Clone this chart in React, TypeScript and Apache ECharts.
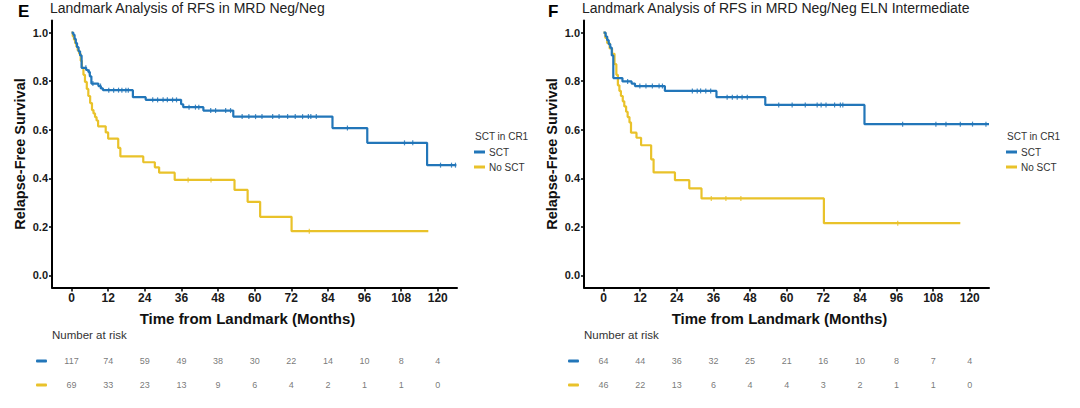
import React, { useEffect, useRef } from "react";
import * as echarts from "echarts";

// ---- Data ----
const tickTimes = [0, 12, 24, 36, 48, 60, 72, 84, 96, 108, 120];
const yTicks = [0, 0.2, 0.4, 0.6, 0.8, 1.0];
const groupNames = ["SCT", "No SCT"];

// Panel E: MRD Neg/Neg
const eSctTimes = [0, 0.6, 1.0, 1.4, 1.8, 2.3, 2.8, 3.3, 4.8, 5.5, 6.0, 6.5, 8.8, 9.6, 10.3, 20.1, 24.3, 35.9, 36.6, 43.2, 53.0, 85.5, 96.9, 116.5, 126.1];
const eSctSurv = [1.0, 0.991, 0.974, 0.957, 0.94, 0.923, 0.906, 0.855, 0.846, 0.838, 0.82, 0.79, 0.78, 0.77, 0.763, 0.734, 0.723, 0.705, 0.693, 0.679, 0.654, 0.607, 0.546, 0.454, 0.454];
const eNoTimes = [0, 0.4, 0.8, 1.2, 1.6, 2.0, 2.5, 3.0, 3.4, 3.9, 4.4, 5.0, 5.5, 6.1, 6.7, 7.2, 7.7, 8.2, 8.7, 11.2, 12.0, 15.3, 16.0, 23.5, 27.3, 28.7, 33.8, 53.4, 57.7, 61.8, 72.1, 116.9];
const eNoSurv = [1.0, 0.985, 0.971, 0.956, 0.942, 0.927, 0.913, 0.884, 0.855, 0.826, 0.797, 0.768, 0.739, 0.71, 0.681, 0.667, 0.652, 0.638, 0.614, 0.589, 0.563, 0.525, 0.49, 0.466, 0.445, 0.423, 0.393, 0.352, 0.303, 0.241, 0.182, 0.182];
const eSctCensor = [4.7, 5.8, 7.0, 9.5, 12.2, 13.8, 15.4, 16.5, 17.8, 18.6, 26.6, 28.2, 30.0, 31.4, 33.1, 34.4, 38.5, 40.6, 41.7, 45.6, 47.2, 50.5, 52.1, 55.9, 58.1, 60.3, 62.4, 65.9, 68.0, 70.8, 73.3, 75.7, 77.6, 78.4, 80.2, 90.4, 109.1, 111.8, 120.9, 124.5, 125.8];
const eNoCensor = [38.2, 45.7, 77.9];
const eSctRisk = [117, 74, 59, 49, 38, 30, 22, 14, 10, 8, 4];
const eNoRisk = [69, 33, 23, 13, 9, 6, 4, 2, 1, 1, 0];

// Panel F: MRD Neg/Neg ELN Intermediate
const fSctTimes = [0, 0.7, 1.2, 1.7, 2.2, 2.7, 3.2, 6.2, 9.2, 10.3, 20.1, 37.0, 53.0, 85.5, 126.3];
const fSctSurv = [1.0, 0.984, 0.969, 0.953, 0.938, 0.906, 0.813, 0.799, 0.79, 0.78, 0.76, 0.734, 0.702, 0.623, 0.623];
const fNoTimes = [0, 0.6, 1.2, 2.0, 2.8, 3.6, 4.2, 4.7, 5.2, 5.7, 6.3, 6.8, 7.4, 7.9, 8.5, 9.0, 10.8, 12.3, 15.6, 16.4, 23.4, 28.1, 32.1, 72.2, 116.9];
const fNoSurv = [1.0, 0.978, 0.957, 0.935, 0.913, 0.87, 0.826, 0.783, 0.76, 0.739, 0.717, 0.696, 0.674, 0.652, 0.63, 0.588, 0.567, 0.536, 0.478, 0.424, 0.392, 0.358, 0.317, 0.215, 0.215];
const fSctCensor = [7.9, 11.9, 13.9, 16.0, 18.2, 19.3, 29.1, 30.7, 31.8, 33.5, 35.1, 40.5, 42.2, 43.8, 45.4, 47.1, 57.4, 61.8, 66.1, 70.0, 71.3, 72.9, 75.7, 77.6, 78.4, 98.0, 108.9, 112.2, 116.9, 120.9, 125.3];
const fNoCensor = [35.3, 40.1, 45.0, 96.4];
const fSctRisk = [64, 44, 36, 32, 25, 21, 16, 10, 8, 7, 4];
const fNoRisk = [46, 22, 13, 6, 4, 4, 3, 2, 1, 1, 0];

const panelTitles = ["Landmark Analysis of RFS in MRD Neg/Neg", "Landmark Analysis of RFS in MRD Neg/Neg ELN Intermediate"];
const panelLetters = ["E", "F"];

const BLUE = "#2276B9";
const YELLOW = "#E9C22A";
const FONT = "Liberation Sans, Arial, sans-serif";

function survAt(times: number[], surv: number[], t: number) {
  let v = surv[0];
  for (let i = 0; i < times.length; i++) {
    if (times[i] <= t) v = surv[i];
  }
  return v;
}

export default function App() {
  const ref = useRef<HTMLDivElement>(null);
  useEffect(() => {
    if (!ref.current) return;
    const chart = echarts.init(ref.current, null, { renderer: "svg" });

    const panels = [
      { left: 52, sT: eSctTimes, sS: eSctSurv, nT: eNoTimes, nS: eNoSurv, sC: eSctCensor, nC: eNoCensor, sR: eSctRisk, nR: eNoRisk },
      { left: 584, sT: fSctTimes, sS: fSctSurv, nT: fNoTimes, nS: fNoSurv, sC: fSctCensor, nC: fNoCensor, sR: fSctRisk, nR: fNoRisk },
    ];
    const W = 405;
    const XMIN = -6.4;
    const XMAX = 126.3;

    const grid: any[] = [];
    const xAxis: any[] = [];
    const yAxis: any[] = [];
    const series: any[] = [];

    panels.forEach((p, i) => {
      const gMain = i * 2;
      const gRisk = i * 2 + 1;
      grid.push({ left: p.left, top: 20.5, width: W, height: 267 });
      grid.push({ left: p.left, top: 349, width: W, height: 48 });
      xAxis.push({
        type: "value", gridIndex: gMain, min: XMIN, max: XMAX,
        splitLine: { show: false },
        axisLine: { onZero: false, lineStyle: { color: "#000", width: 2 } },
        axisTick: { customValues: tickTimes, length: 4, lineStyle: { color: "#000", width: 1.5 } },
        axisLabel: { customValues: tickTimes, color: "#1a1a1a", fontWeight: "bold", fontSize: 12, fontFamily: FONT, margin: 4 },
        name: "Time from Landmark (Months)", nameLocation: "middle", nameGap: 23,
        nameTextStyle: { color: "#111", fontWeight: "bold", fontSize: 15, fontFamily: FONT, padding: [0, 14, 0, 0] },
      });
      xAxis.push({ type: "value", gridIndex: gRisk, min: XMIN, max: XMAX, show: false });
      yAxis.push({
        type: "value", gridIndex: gMain, min: -0.05, max: 1.05,
        splitLine: { show: false },
        axisLine: { show: true, onZero: false, lineStyle: { color: "#000", width: 2 } },
        axisTick: { show: true, customValues: yTicks, length: 3, lineStyle: { color: "#000", width: 1.5 } },
        axisLabel: { customValues: yTicks, formatter: (v: number) => v.toFixed(1), color: "#1a1a1a", fontWeight: "bold", fontSize: 11, fontFamily: FONT, margin: 4 },
        name: "Relapse-Free Survival", nameLocation: "middle", nameGap: 25,
        nameTextStyle: { color: "#111", fontWeight: "bold", fontSize: 14.5, fontFamily: FONT },
      });
      yAxis.push({
        type: "category", gridIndex: gRisk, data: groupNames, inverse: true,
        axisLine: { show: false }, axisTick: { show: false }, splitLine: { show: false },
        axisLabel: {
          margin: 5,
          formatter: (v: string) => (v === "SCT" ? "{s|}" : "{n|}"),
          rich: {
            s: { backgroundColor: BLUE, width: 11, height: 3, borderRadius: 1 },
            n: { backgroundColor: YELLOW, width: 11, height: 3, borderRadius: 1 },
          },
        },
      });

      const mk = (name: string, color: string, times: number[], surv: number[], cens: number[], risk: number[]) => {
        series.push({
          name, type: "line", step: "end", xAxisIndex: gMain, yAxisIndex: gMain,
          showSymbol: false, symbol: "none",
          lineStyle: { color, width: 2.2 }, itemStyle: { color },
          data: times.map((t, k) => [t, surv[k]]),
          z: name === "SCT" ? 3 : 2,
        });
        series.push({
          name: name + " censored", type: "scatter", xAxisIndex: gMain, yAxisIndex: gMain,
          symbol: "rect", symbolSize: [1.2, 5],
          itemStyle: { color, opacity: 0.85 },
          data: cens.map((t) => [t, survAt(times, surv, t)]),
          z: name === "SCT" ? 4 : 2,
        });
        series.push({
          name: name + " at risk", type: "scatter", xAxisIndex: gRisk, yAxisIndex: gRisk,
          symbolSize: 0,
          label: { show: true, position: "inside", formatter: (d: any) => String(d.value[2]), color: "#555", fontSize: 9, fontFamily: FONT },
          data: tickTimes.map((t, k) => [t, name, risk[k]]),
        });
      };
      mk("SCT", BLUE, p.sT, p.sS, p.sC, p.sR);
      mk("No SCT", YELLOW, p.nT, p.nS, p.nC, p.nR);
    });

    const title: any[] = [];
    const letterLeft = [18, 548];
    const titleLeft = [50, 582];
    const legendLeft = [474, 1006];
    for (let i = 0; i < 2; i++) {
      title.push({ text: panelLetters[i], left: letterLeft[i], top: 3, padding: 0, textStyle: { fontSize: 17, fontWeight: "bold", color: "#000", fontFamily: FONT } });
      title.push({ text: panelTitles[i], left: titleLeft[i], top: 1, padding: 0, textStyle: { fontSize: 14, fontWeight: "normal", color: "#222", fontFamily: FONT } });
      title.push({ text: "SCT in CR1", left: legendLeft[i] + 1, top: 131, padding: 0, textStyle: { fontSize: 10, fontWeight: "normal", color: "#333", fontFamily: FONT } });
      title.push({ text: "Number at risk", left: panels[i].left, top: 329, padding: 0, textStyle: { fontSize: 11.5, fontWeight: "normal", color: "#333", fontFamily: FONT } });
    }

    const legend = [0, 1].map((i) => ({
      data: groupNames, orient: "vertical", left: legendLeft[i], top: 147, padding: 0,
      icon: "rect", itemWidth: 11, itemHeight: 3, itemGap: 5,
      selectedMode: false,
      textStyle: { fontSize: 10, color: "#333", fontFamily: FONT, padding: [0, 0, 0, -1] },
    }));

    chart.setOption({
      animation: false,
      backgroundColor: "#fff",
      textStyle: { fontFamily: FONT },
      title, legend, grid, xAxis, yAxis, series,
    });
    return () => chart.dispose();
  }, []);
  return <div ref={ref} style={{ width: 1080, height: 408, position: "fixed", left: 0, top: 0 }} />;
}
